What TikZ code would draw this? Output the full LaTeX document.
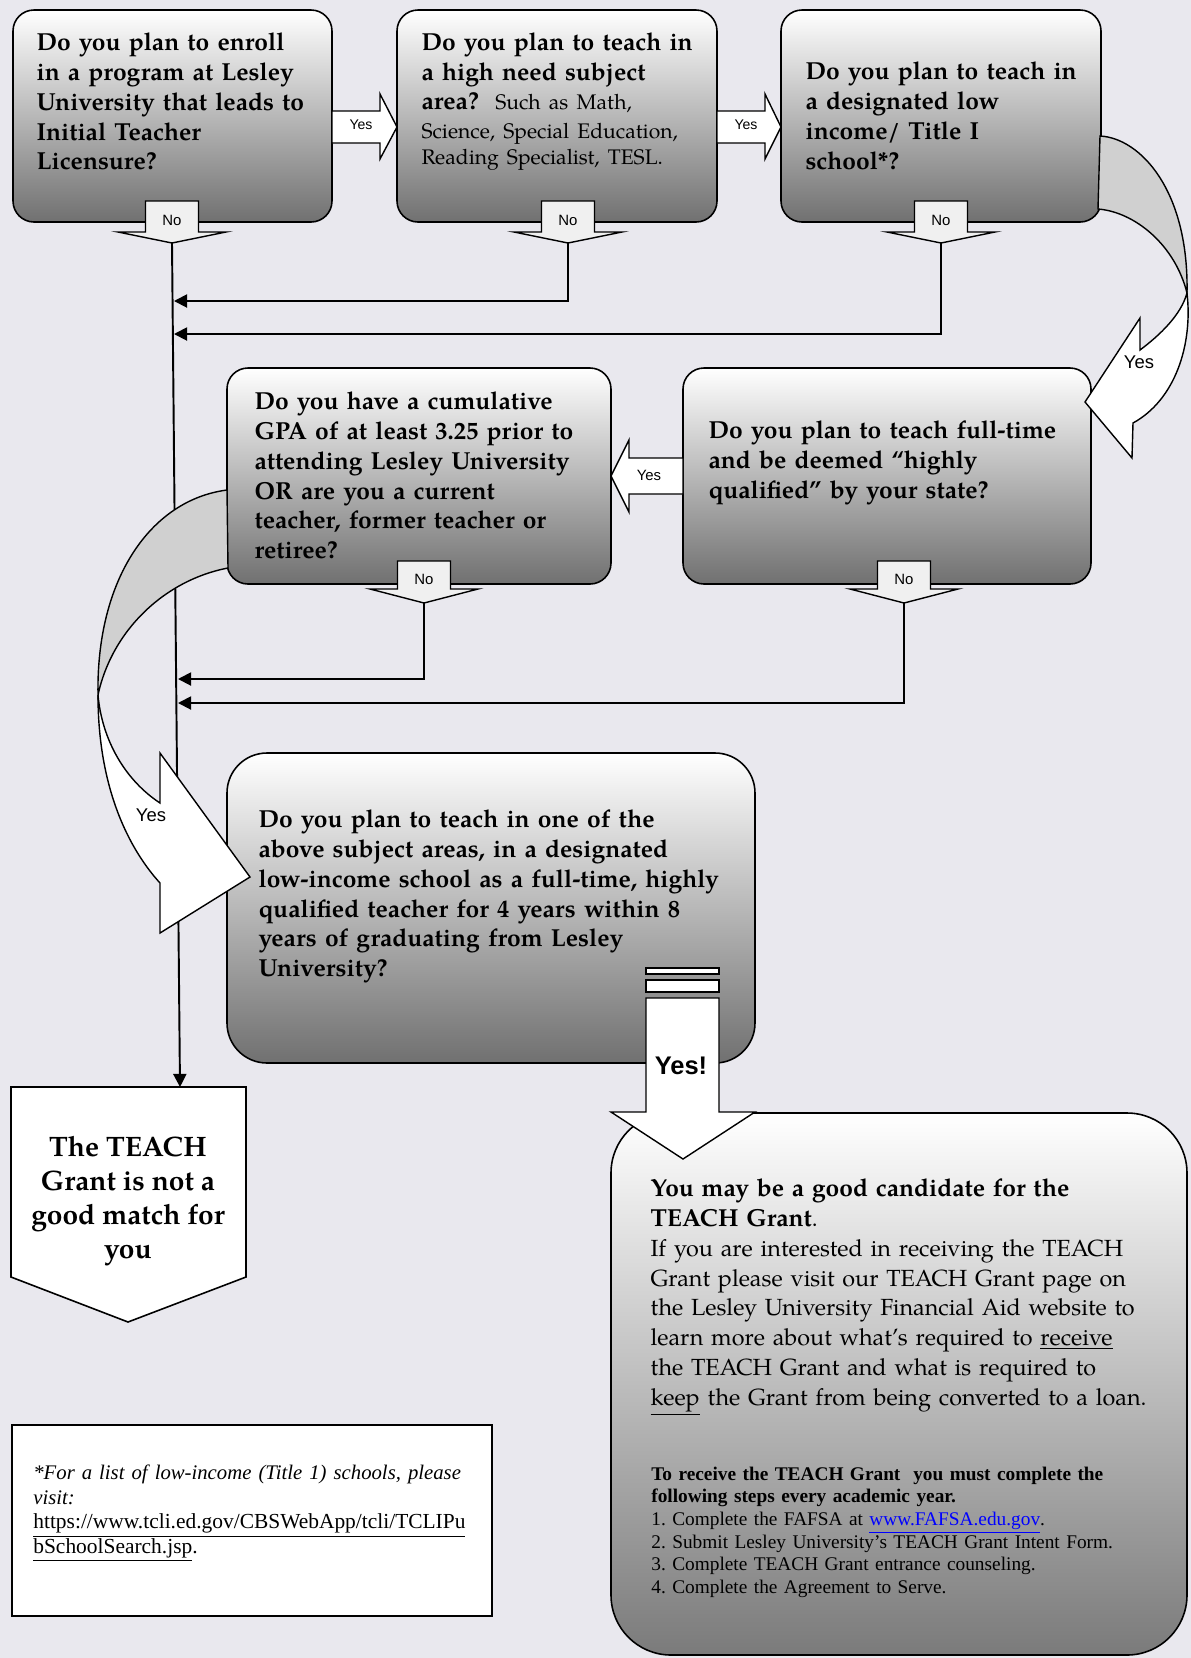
\documentclass[tikz,border=0pt]{standalone}
\usepackage{fontspec}
\setmainfont{texgyrepagella}[Extension=.otf,UprightFont=*-regular,BoldFont=*-bold,ItalicFont=*-italic,BoldItalicFont=*-bolditalic]
\newfontfamily\timesfont{Liberation Serif}
\newfontfamily\arialfont{Liberation Sans}
\usepackage{xcolor}
\usepackage{tikz}
\usetikzlibrary{calc,shapes}
\usetikzlibrary{positioning, fit, shapes.geometric}
\usetikzlibrary{backgrounds,arrows.meta}
\pgfdeclarelayer{background}
\pgfsetlayers{background,main}
\frenchspacing

\definecolor{paper}{RGB}{233,232,238}
\definecolor{bandgray}{RGB}{208,208,208}
\definecolor{nofill}{RGB}{240,240,240}

\tikzset{
  qbox/.style={draw=black, line width=0.9pt, inner sep=0pt, rounded corners=0.42cm,
    top color=white, middle color=black!18, bottom color=black!56},
  qtext/.style={anchor=north west, inner sep=0pt, align=left, text width=11cm,
    font=\fontsize{14}{17}\selectfont\bfseries},
  blockarrow/.style={draw=black, line width=0.8pt, fill=white},
  lbl/.style={font=\arialfont\fontsize{8.5}{10}\selectfont, inner sep=0pt},
  bigyes/.style={font=\arialfont\fontsize{10.5}{12}\selectfont, inner sep=0pt},
  conn/.style={line width=1.1pt, -{Triangle[length=7.5pt,width=7.5pt]}},
}

\begin{document}
\begin{tikzpicture}[x=0.02cm,y=-0.02cm]
\useasboundingbox (0,0) rectangle (1191,1658);

% question boxes
\node[qbox, fit={(13,10) (332,222)}] (q1) {};
\node[qbox, fit={(397,10) (717,222)}] (q2) {};
\node[qbox, fit={(781,10) (1101,222)}] (q3) {};
\node[qbox, fit={(683,368) (1091,584)}] (q4) {};
\node[qbox, fit={(227,368) (611,584)}] (q5) {};
\node[qbox, rounded corners=0.8cm, fit={(227,753) (755,1063)}] (q6) {};
\node[qbox, rounded corners=1.2cm, middle color=black!14, bottom color=black!52,
  fit={(611,1113) (1187,1655)}] (q7) {};

% end boxes
\draw[line width=0.9pt, fill=white] (11,1087) -- (246,1087) -- (246,1277) -- (128,1322) -- (11,1277) -- cycle;
\node[draw, line width=1.4pt, fill=white, inner sep=0pt, fit={(12,1425) (492,1616)}] (foot) {};

% no arrows
\foreach \cx/\nm in {172/no1,568/no2,941/no3}{
  \filldraw[blockarrow, fill=nofill] (\cx-26.5,201) -- (\cx+26.5,201) -- (\cx+26.5,232) -- (\cx+54,232)
    -- (\cx,243) -- (\cx-54,232) -- (\cx-26.5,232) -- cycle;
  \node[lbl] (\nm-lbl) at (\cx,220) {No};
  \coordinate (\nm) at (\cx,243);
}
\foreach \cx/\nm in {424/no5,904/no4}{
  \filldraw[blockarrow, fill=nofill] (\cx-26.5,561) -- (\cx+26.5,561) -- (\cx+26.5,589) -- (\cx+54,589)
    -- (\cx,603) -- (\cx-54,589) -- (\cx-26.5,589) -- cycle;
  \node[lbl] (\nm-lbl) at (\cx,579) {No};
  \coordinate (\nm) at (\cx,603);
}

% connectors
\coordinate (nm) at (180,1087);
\coordinate (m2) at (174,301);
\coordinate (m3) at (174,334);
\coordinate (m5) at (178,679);
\coordinate (m4) at (178,703);
\draw[conn] (no1) -- (nm);
\draw[conn] (no2) |- (m2);
\draw[conn] (no3) |- (m3);
\draw[conn] (no5) |- (m5);
\draw[conn] (no4) |- (m4);

% yes arrows
\filldraw[blockarrow] (332,111) -- (380,111) -- (380,94) -- (397,127) -- (380,159) -- (380,143) -- (332,143) -- cycle;
\node[lbl, font=\arialfont\fontsize{8}{10}\selectfont] (yes1) at (361,125) {Yes};
\filldraw[blockarrow] (717,111) -- (765,111) -- (765,94) -- (781,127) -- (765,159) -- (765,143) -- (717,143) -- cycle;
\node[lbl, font=\arialfont\fontsize{8}{10}\selectfont] (yes2) at (746,125) {Yes};
\filldraw[blockarrow] (683,458) -- (629,458) -- (629,440) -- (611,476) -- (629,512) -- (629,494) -- (683,494) -- cycle;
\node[lbl] (yes3) at (649,475) {Yes};

\filldraw[blockarrow] (646,968) rectangle (719,974);
\filldraw[blockarrow] (646,980) rectangle (719,992);
\filldraw[blockarrow] (646,998) -- (719,998) -- (719,1112) -- (755,1112) -- (683,1159) -- (611,1112) -- (646,1112) -- cycle;
\node[font=\arialfont\bfseries\fontsize{14.5}{16}\selectfont, inner sep=0pt] (yes6) at (681,1066) {Yes!};

% curved yes arrows
\filldraw[blockarrow, fill=bandgray] (1100,136) .. controls (1140,138) and (1189,190) .. (1187,293)
  .. controls (1175,245) and (1135,212) .. (1098,209) -- cycle;
\filldraw[blockarrow] (1187,293) .. controls (1193,345) and (1175,400) .. (1133,423) -- (1132,458) -- (1085,402)
  -- (1140,318) -- (1140,350) .. controls (1160,335) and (1181,315) .. (1187,293) -- cycle;
\node[bigyes] (yes3b) at (1139,362) {Yes};

\filldraw[blockarrow, fill=bandgray] (227,490) .. controls (150,500) and (96,580) .. (98,695)
  .. controls (112,630) and (165,580) .. (228,568) -- cycle;
\filldraw[blockarrow] (98,695) .. controls (98,790) and (130,850) .. (160,883) -- (160,933) -- (250,877)
  -- (160,753) -- (160,803) .. controls (125,780) and (102,740) .. (98,695) -- cycle;
\node[bigyes] (yes5) at (151,815) {Yes};

% texts
\node[qtext] (q1txt) at ($(q1.north west)+(24,20)$) {\strut Do you plan to enroll\\ in a program at Lesley\\
  University that leads to\\ Initial Teacher\\ Licensure?};
\node[qtext, font=\fontsize{14}{15}\selectfont\bfseries] (q2txt) at ($(q2.north west)+(25,22.5)$) {\strut Do you plan to teach in\\[2pt]
  a high need subject\\[1.8pt] area?\ \ {\mdseries\fontsize{12}{15}\selectfont Such as Math,\\[1.2pt]
  Science, Special Education,\\ Reading Specialist, TESL.}};
\node[qtext] (q3txt) at ($(q3.north west)+(25,49)$) {\strut Do you plan to teach in\\ a designated low\\
  income/ Title I\\ school*?};
\node[qtext] (q4txt) at ($(q4.north west)+(26,50)$) {\strut Do you plan to teach full-time\\
  and be deemed “highly\\ qualified” by your state?};
\node[qtext] (q5txt) at ($(q5.north west)+(28,21)$) {\strut Do you have a cumulative\\ GPA of at least 3.25 prior to\\
  attending Lesley University\\ OR are you a current\\ teacher, former teacher or\\ retiree?};
\node[qtext] (q6txt) at ($(q6.north west)+(32,54)$) {\strut Do you plan to teach in one of the\\
  above subject areas, in a designated\\ low-income school as a full-time, highly\\
  qualified teacher for 4 years within 8\\ years of graduating from Lesley\\ University?};
\node[qtext, font=\fontsize{13.3}{17}\selectfont] (q7txt) at ($(q7.north west)+(40,63)$) {\strut
  {\bfseries\fontsize{14}{17}\selectfont You may be a good candidate for the\\ TEACH Grant}.\\
  If you are interested in receiving the TEACH\\ Grant please visit our TEACH Grant page on\\
  the Lesley University Financial Aid website to\\ learn more about what’s required to \underline{receive}\\
  the TEACH Grant and what is required to\\ \underline{keep} the Grant from being converted to a loan.};
\node[qtext, font=\timesfont\fontsize{11}{12.9}\selectfont] (q7steps) at (651,1464) {\strut
  {\bfseries To receive the TEACH Grant\ \ you must complete the\\ following steps every academic year.}\\
  1. Complete the FAFSA at {\color{blue}\underline{www.FAFSA.edu.gov}}.\\
  2. Submit Lesley University’s TEACH Grant Intent Form.\\
  3. Complete TEACH Grant entrance counseling.\\
  4. Complete the Agreement to Serve.};
\node[anchor=north, inner sep=0pt, align=center, font=\fontsize{16}{19.2}\selectfont\bfseries] (nomatch)
  at (128,1133) {\strut The TEACH\\ Grant is not a\\ good match for\\ you};
\node[qtext, font=\timesfont\fontsize{12}{14}\selectfont\mdseries] (foottxt) at (33,1462) {\strut
  {\itshape\fontsize{11.8}{14}\selectfont *For a list of low-income (Title 1) schools, please\\ visit:}\\
  {\fontsize{12.2}{14}\selectfont\underline{https://www.tcli.ed.gov/CBSWebApp/tcli/TCLIPu}\\ \underline{bSchoolSearch.jsp}.}};

\begin{pgfonlayer}{background}
  \fill[paper] (0,0) rectangle (1191,1658);
\end{pgfonlayer}
\end{tikzpicture}
\end{document}
